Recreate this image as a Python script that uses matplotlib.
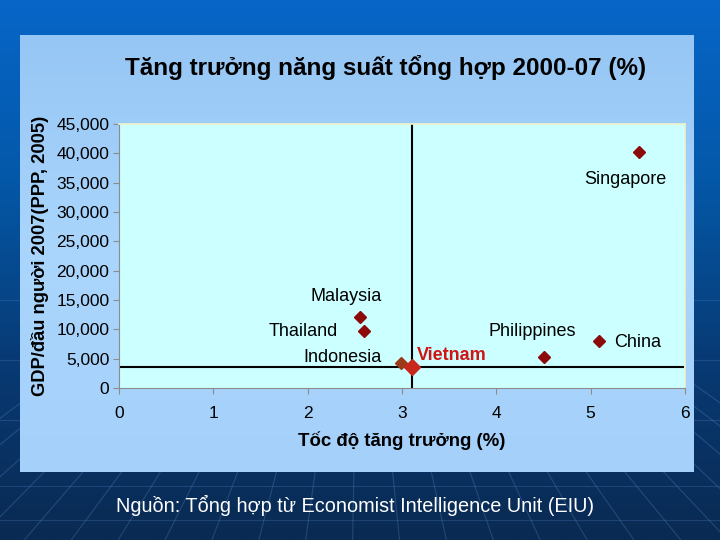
import matplotlib
matplotlib.use("Agg")
import matplotlib.pyplot as plt
import numpy as np
from matplotlib.colors import LinearSegmentedColormap

# Data
countries = ['Singapore', 'Malaysia', 'Thailand', 'Indonesia', 'Vietnam', 'Philippines', 'China']
growth = [5.51, 2.56, 2.60, 2.99, 3.11, 4.51, 5.09]           # %
gdp_pc = [40200, 12100, 9700, 4300, 3650, 5300, 8050]          # PPP 2005
x_ticks = [0, 1, 2, 3, 4, 5, 6]
y_ticks = [0, 5000, 10000, 15000, 20000, 25000, 30000, 35000, 40000, 45000]

title = 'Tăng trưởng năng suất tổng hợp 2000-07 (%)'
x_label = 'Tốc độ tăng trưởng (%)'
y_label = 'GDP/đầu người 2007(PPP, 2005)'
source = 'Nguồn: Tổng hợp từ Economist Intelligence Unit (EIU)'

# label placement: (dx, dy) in points, ha, bold/red
label_style = {
    'Singapore':   ((-10, -20), 'center', False),
    'Malaysia':    ((-10, 15), 'center', False),
    'Thailand':    ((-19, 0), 'right', False),
    'Indonesia':   ((-14, 4), 'right', False),
    'Vietnam':     ((3, 8), 'left', True),
    'Philippines': ((-9, 18), 'center', False),
    'China':       ((11, -1), 'left', False),
}

plt.rcParams['font.family'] = ['Liberation Sans', 'DejaVu Sans']

W, H = 720, 540
fig = plt.figure(figsize=(7.2, 5.4), dpi=100)

# slide background: blue gradient with perspective lines
bg = fig.add_axes([0, 0, 1, 1])
slide_cmap = LinearSegmentedColormap.from_list('slide', ['#0766c8', '#0458a8', '#083a74', '#0a2a52'])
bg.imshow(np.linspace(0, 1, 256).reshape(-1, 1), aspect='auto', cmap=slide_cmap,
          extent=[0, W, H, 0])
vx, vy = 360, 150
for bx in np.arange(-700, 1500, 95):
    bg.plot([bx, vx], [H + 400, vy], color='#5a8ccc', lw=0.8, alpha=0.3)
for hy in [300, 360, 420, 486, 520]:
    bg.plot([0, W], [hy, hy], color='#5a8ccc', lw=0.8, alpha=0.25)
bg.set_xlim(0, W)
bg.set_ylim(H, 0)
bg.axis('off')

# light blue panel
px0, px1, py0, py1 = 20, 694, 35, 472
panel = fig.add_axes([px0 / W, 1 - py1 / H, (px1 - px0) / W, (py1 - py0) / H])
panel_cmap = LinearSegmentedColormap.from_list('panel', ['#96c6f4', '#aad6fd', '#a4d0fa'])
panel.imshow(np.linspace(0, 1, 256).reshape(-1, 1), aspect='auto', cmap=panel_cmap)
panel.axis('off')

# plot area
ax0, ax1, ay0, ay1 = 119, 685, 124, 388
ax = fig.add_axes([ax0 / W, 1 - ay1 / H, (ax1 - ax0) / W, (ay1 - ay0) / H])
ax.set_facecolor('#ccffff')
ax.set_xlim(0, 6)
ax.set_ylim(0, 45000)
ax.set_xticks(x_ticks)
ax.set_yticks(y_ticks)
ax.set_xticklabels([str(t) for t in x_ticks], fontsize=12.5)
ax.set_yticklabels([f'{t:,}' for t in y_ticks], fontsize=12.5)
ax.tick_params(axis='both', colors='#8c8c8c', labelcolor='black', length=4, width=0.8)
ax.tick_params(axis='x', pad=9)
ax.tick_params(axis='y', pad=3)
for side in ['left', 'bottom']:
    ax.spines[side].set_color('#8c8c8c')
    ax.spines[side].set_linewidth(0.8)
for side in ['top', 'right']:
    ax.spines[side].set_color('#eef2c8')
    ax.spines[side].set_linewidth(1.2)

# crosshair through Vietnam
vi = countries.index('Vietnam')
ax.axvline(growth[vi], color='black', lw=1.5, zorder=2)
ax.axhline(gdp_pc[vi], xmax=0.997, color='black', lw=1.5, zorder=2)

for c, gx, gy in zip(countries, growth, gdp_pc):
    if c == 'Vietnam':
        ax.plot(gx, gy, marker='D', ms=8.5, color='#c8281c', zorder=4)
    elif c == 'Indonesia':
        ax.plot(gx, gy, marker='D', ms=6.5, color='#9a3a18', zorder=4)
    else:
        ax.plot(gx, gy, marker='D', ms=6.5, color='#8c0a0a', zorder=4)
    (dx, dy), ha, bold = label_style[c]
    ax.annotate(c, (gx, gy), xytext=(dx, dy), textcoords='offset points',
                ha=ha, va='center', fontsize=13,
                fontweight='bold' if bold else 'normal',
                color='#d01414' if bold else 'black', zorder=5)

ax.set_xlabel(x_label, fontsize=13.4, fontweight='bold', labelpad=7)
ax.set_ylabel(y_label, fontsize=13.2, fontweight='bold', labelpad=5)

fig.text(386 / W, 1 - 67 / H, title, ha='center', va='center', fontsize=17.5,
         fontweight='bold')
fig.text(355 / W, 1 - 505 / H, source, ha='center', va='center', fontsize=14.3,
         color='white')

fig.savefig('out.png', dpi=100)
